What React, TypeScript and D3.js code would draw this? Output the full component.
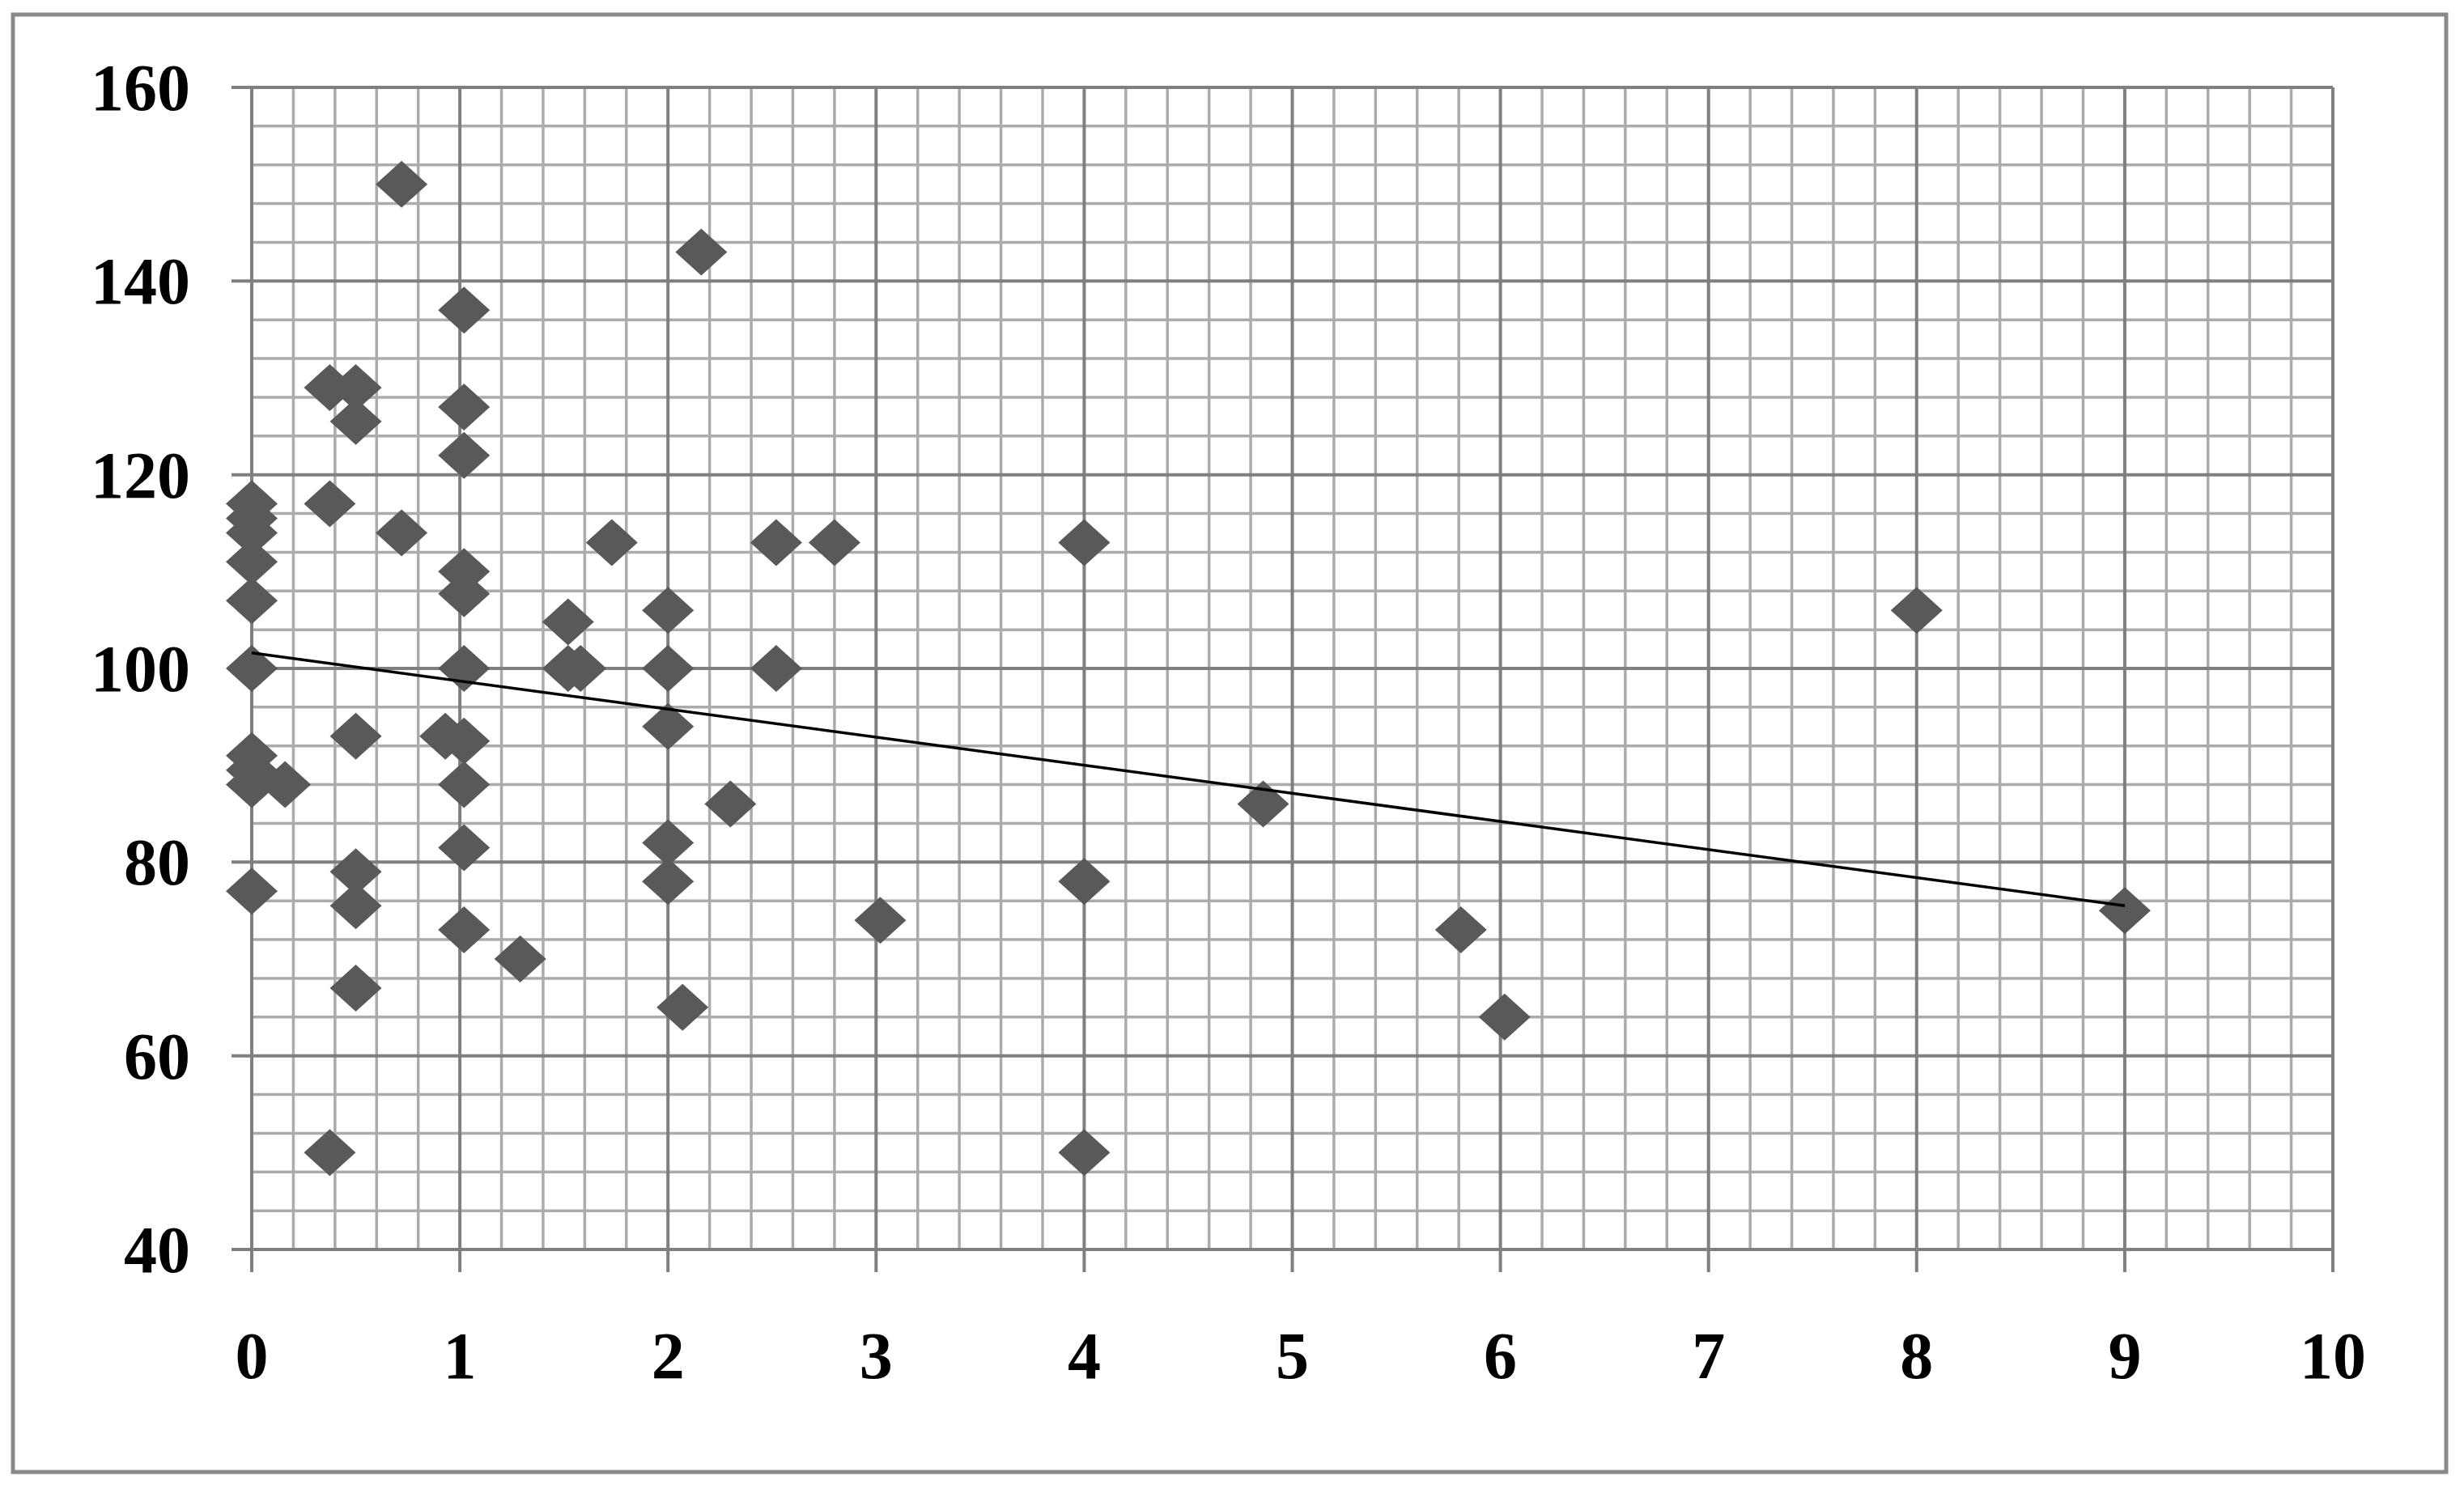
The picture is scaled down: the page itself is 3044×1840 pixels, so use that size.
import React, { useEffect, useRef } from 'react';
import * as d3 from 'd3';

// values
const xValues = [
  0, 0, 0, 0, 0, 0, 0, 0, 0, 0,
  0.16,
  0.375, 0.375, 0.375,
  0.5, 0.5, 0.5, 0.5, 0.5, 0.5,
  0.72, 0.72,
  0.93,
  1.02, 1.02, 1.02, 1.02, 1.02, 1.02, 1.02, 1.02, 1.02, 1.02,
  1.29,
  1.52, 1.52, 1.58,
  1.73,
  2.0, 2.0, 2.0, 2.0, 2.0,
  2.07, 2.16, 2.3,
  2.52, 2.52, 2.8,
  3.02,
  4, 4, 4,
  4.86, 5.81, 6.02, 8, 9
];
const yValues = [
  117, 115.5, 114, 111, 107, 100, 91, 89.5, 88, 77,
  88,
  129, 117, 50,
  129, 125.5, 93, 79, 75.5, 67,
  150, 114,
  93,
  137, 127, 122, 110, 107.7, 100, 92.5, 88, 81.5, 73,
  70,
  104.8, 100, 100,
  113,
  106, 100, 94, 82, 78,
  65, 143, 86,
  113, 100, 113,
  74,
  113, 78, 50,
  86, 73, 64, 106, 75
];
// trend line end points
const trendX = [0, 9];
const trendY = [101.6, 75.5];

const xTicks = [0, 1, 2, 3, 4, 5, 6, 7, 8, 9, 10];
const yTicks = [40, 60, 80, 100, 120, 140, 160];

function App() {
  const ref = useRef<SVGSVGElement>(null);

  const width = 3044;
  const height = 1840;
  const plot = { left: 311, right: 2882, top: 108, bottom: 1544 };

  useEffect(() => {
    const svg = d3.select(ref.current);
    svg.selectAll('*').remove();

    svg.append('rect')
      .attr('x', 0).attr('y', 0)
      .attr('width', width).attr('height', height)
      .attr('fill', 'white');

    // outer chart border
    svg.append('rect')
      .attr('x', 16).attr('y', 18)
      .attr('width', 3022 - 16).attr('height', 1819 - 18)
      .attr('fill', 'none')
      .attr('stroke', '#8a8a8a')
      .attr('stroke-width', 5);

    const x = d3.scaleLinear().domain([0, 10]).range([plot.left, plot.right]);
    const y = d3.scaleLinear().domain([40, 160]).range([plot.bottom, plot.top]);

    const grid = svg.append('g');

    // minor grid
    const minorX = d3.range(0, 10.001, 0.2).filter(v => Math.abs(v - Math.round(v)) > 0.01);
    const minorY = d3.range(40, 160.001, 4).filter(v => v % 20 !== 0);

    grid.selectAll('.minor-x')
      .data(minorX)
      .enter().append('line')
      .attr('x1', d => x(d)).attr('x2', d => x(d))
      .attr('y1', plot.top).attr('y2', plot.bottom)
      .attr('stroke', '#ababab')
      .attr('stroke-width', 3.5);

    grid.selectAll('.minor-y')
      .data(minorY)
      .enter().append('line')
      .attr('y1', d => y(d)).attr('y2', d => y(d))
      .attr('x1', plot.left).attr('x2', plot.right)
      .attr('stroke', '#ababab')
      .attr('stroke-width', 3.5);

    // major grid with tick stubs outside the plot
    grid.selectAll('.major-x')
      .data(xTicks)
      .enter().append('line')
      .attr('x1', d => x(d)).attr('x2', d => x(d))
      .attr('y1', plot.top).attr('y2', plot.bottom + 28)
      .attr('stroke', '#7f7f7f')
      .attr('stroke-width', 4);

    grid.selectAll('.major-y')
      .data(yTicks)
      .enter().append('line')
      .attr('y1', d => y(d)).attr('y2', d => y(d))
      .attr('x1', plot.left - 25).attr('x2', plot.right)
      .attr('stroke', '#7f7f7f')
      .attr('stroke-width', 4);

    // tick labels
    svg.selectAll('.x-label')
      .data(xTicks)
      .enter().append('text')
      .attr('x', d => x(d))
      .attr('y', 1703)
      .attr('text-anchor', 'middle')
      .style('font-family', '"Liberation Serif", "Times New Roman", serif')
      .style('font-weight', 'bold')
      .style('font-size', '82px')
      .attr('fill', '#000')
      .text(d => d);

    svg.selectAll('.y-label')
      .data(yTicks)
      .enter().append('text')
      .attr('x', 235)
      .attr('y', d => y(d) + 28)
      .attr('text-anchor', 'end')
      .style('font-family', '"Liberation Serif", "Times New Roman", serif')
      .style('font-weight', 'bold')
      .style('font-size', '82px')
      .attr('fill', '#000')
      .text(d => d);

    // diamond markers
    const pts = xValues.map((v, i) => ({ x: v, y: yValues[i] }));
    const hw = 32;
    const hh = 29;
    svg.append('g')
      .selectAll('path')
      .data(pts)
      .enter().append('path')
      .attr('d', d => {
        const cx = x(d.x);
        const cy = y(d.y);
        return `M${cx},${cy - hh}L${cx + hw},${cy}L${cx},${cy + hh}L${cx - hw},${cy}Z`;
      })
      .attr('fill', '#595959');

    // trend line
    const line = d3.line<number>()
      .x((d, i) => x(trendX[i]))
      .y(d => y(d));
    svg.append('path')
      .datum(trendY)
      .attr('d', line)
      .attr('fill', 'none')
      .attr('stroke', '#000')
      .attr('stroke-width', 3.5);
  }, []);

  return (
    <svg
      ref={ref}
      width={width}
      height={height}
      style={{ position: 'absolute', left: 0, top: 0, display: 'block' }}
    />
  );
}

export default App;
